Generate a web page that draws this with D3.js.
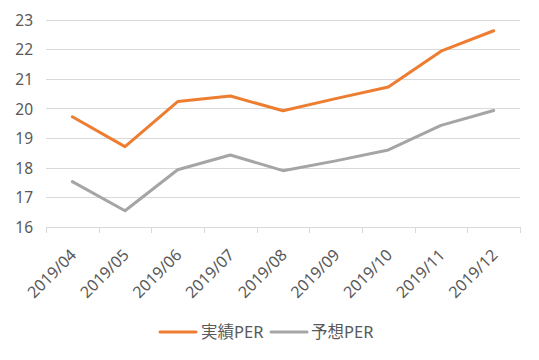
<!DOCTYPE html>
<html><head><meta charset="utf-8">
<script src="https://cdn.jsdelivr.net/npm/d3@7"></script>
<style>body{margin:0;background:#fff}svg{display:block}</style>
</head><body>
<svg id="c" width="539" height="360"></svg>
<script>
const categories = ["2019/04","2019/05","2019/06","2019/07","2019/08","2019/09","2019/10","2019/11","2019/12"];
const actualPER = [19.72, 18.71, 20.23, 20.42, 19.92, 20.33, 20.72, 21.93, 22.62];
const forecastPER = [17.53, 16.55, 17.93, 18.43, 17.90, 18.23, 18.60, 19.43, 19.93];
const yTicks = [16,17,18,19,20,21,22,23];
const seriesNames = ["実績PER","予想PER"];
const colors = ["#ED7D31","#A5A5A5"];

const svg = d3.select("#c");
const font = "'Noto Sans', 'Noto Sans CJK JP', sans-serif";
const x = d3.scaleBand().domain(categories).range([46, 520]);
const y = d3.scaleLinear().domain([16, 23]).range([227, 19.5]);

// gridlines
svg.append("g").selectAll("line").data(yTicks).join("line")
  .attr("x1", 46).attr("x2", 520)
  .attr("y1", d => Math.round(y(d)) + 0.5).attr("y2", d => Math.round(y(d)) + 0.5)
  .attr("stroke", "#D9D9D9").attr("stroke-width", 1);

// y labels
svg.append("g").selectAll("text").data(yTicks).join("text")
  .attr("x", 33).attr("y", d => y(d) + 0.5).attr("dy", "0.36em")
  .attr("text-anchor", "end").attr("fill", "#595959")
  .style("font-family", font).style("font-size", "15.5px")
  .text(d => d);

// x ticks
const tickXs = categories.map(c => x(c)).concat([x.range()[1]]);
svg.append("g").selectAll("line").data(tickXs).join("line")
  .attr("x1", d => Math.round(d) + 0.5).attr("x2", d => Math.round(d) + 0.5)
  .attr("y1", 227).attr("y2", 233)
  .attr("stroke", "#D9D9D9");

// x labels
svg.append("g").selectAll("text").data(categories).join("text")
  .attr("transform", d => `translate(${x(d) + x.bandwidth()/2 + 5},${256}) rotate(-45)`)
  .attr("text-anchor", "end").attr("fill", "#595959")
  .style("font-family", font).style("font-size", "16px")
  .text(d => d);

// lines
const line = d3.line().x((d, i) => x(categories[i]) + x.bandwidth()/2).y(d => y(d));
[actualPER, forecastPER].forEach((s, k) => {
  svg.append("path").datum(s).attr("d", line)
    .attr("fill", "none").attr("stroke", colors[k]).attr("stroke-width", 3)
    .attr("stroke-linejoin", "round").attr("stroke-linecap", "round");
});

// legend
const legend = [{x0: 160, tx: 201}, {x0: 271, tx: 311}];
seriesNames.forEach((n, k) => {
  svg.append("line").attr("x1", legend[k].x0).attr("x2", legend[k].x0 + 36)
    .attr("y1", 332).attr("y2", 332).attr("stroke", colors[k]).attr("stroke-width", 3)
    .attr("stroke-linecap", "round");
  svg.append("text").attr("x", legend[k].tx).attr("y", 332).attr("dy", "0.36em")
    .attr("fill", "#595959").style("font-family", font).style("font-size", "16.5px")
    .text(n);
});
</script>
</body></html>
